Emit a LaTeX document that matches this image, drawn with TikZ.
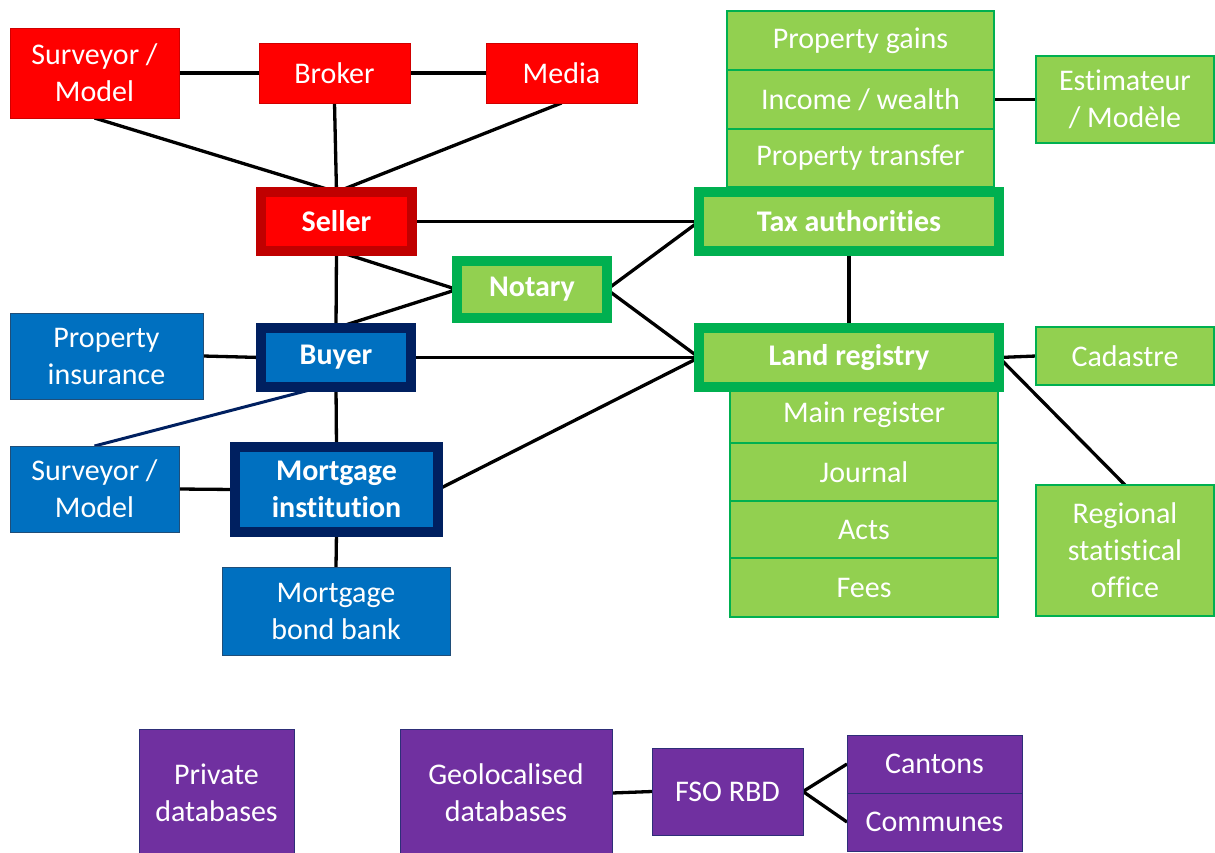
\documentclass[tikz,border=0pt]{standalone}
\usepackage{fontspec}
\setmainfont{Carlito}[Ligatures=NoCommon]
\usetikzlibrary{backgrounds}
\definecolor{cRed}{HTML}{FF0000}
\definecolor{cRedD}{HTML}{D00000}
\definecolor{cRedB}{HTML}{C00000}
\definecolor{cBlue}{HTML}{0070C0}
\definecolor{cBlueD}{HTML}{1F4E79}
\definecolor{cNavy}{HTML}{002060}
\definecolor{cGreen}{HTML}{92D050}
\definecolor{cGreenB}{HTML}{00B050}
\definecolor{cPurple}{HTML}{7030A0}
\definecolor{cPurpleD}{HTML}{2E2E78}
\newcommand\fsz{\fontsize{30}{37}\selectfont}
\tikzset{
  box/.style={rectangle, inner sep=0pt, outer sep=0pt, align=center, text=white, font=\fsz},
  sz/.style 2 args={minimum width=#1pt, minimum height=#2pt},
  redbox/.style={box, fill=cRed, draw=cRedD, line width=0.8pt},
  bluebox/.style={box, fill=cBlue, draw=cBlueD, line width=0.8pt},
  greenbox/.style={box, fill=cGreen, draw=cGreenB, line width=1.5pt},
  purplebox/.style={box, fill=cPurple, draw=cPurpleD, line width=1pt},
  thickred/.style={box, fill=cRed, draw=cRedB, line width=10pt, font=\fsz\bfseries},
  thickblue/.style={box, fill=cBlue, draw=cNavy, line width=10pt, font=\fsz\bfseries},
  thickgreen/.style={box, fill=cGreen, draw=cGreenB, line width=10pt, font=\fsz\bfseries},
  link/.style={line width=3.3pt, black},
  navylink/.style={line width=3pt, cNavy},
}
\begin{document}
\begin{tikzpicture}[x=1pt, y=-1pt]
\useasboundingbox (0,0) rectangle (1215,852);
\clip (0,0) rectangle (1215,852);
% red
\node[redbox, sz={169}{90}] (sv1) at (94.5,73) {Surveyor /\\Model};
\node[redbox, sz={151}{60}] (broker) at (334.5,73) {Broker};
\node[redbox, sz={151}{60}] (media) at (561.5,73) {Media};
\node[thickred, sz={151}{59}] (seller) at (336.5,221.5) {Seller};
% notary
\node[thickgreen, sz={150}{57}] (notary) at (532,289.5) {Notary};
% blue
\node[bluebox, sz={193}{86}] (propins) at (106.5,356) {Property\\insurance};
\node[thickblue, sz={150}{59}] (buyer) at (336,357.5) {Buyer};
\node[bluebox, sz={169}{86}] (sv2) at (94.5,489) {Surveyor /\\Model};
\node[thickblue, sz={203}{85}] (mort) at (336.5,489.5) {Mortgage\\institution};
\node[bluebox, sz={228}{88}] (bond) at (336,611) {Mortgage\\bond bank};
% green top stack
\node[greenbox, sz={267}{59}] (pg) at (860.5,40.5) {Property gains};
\node[greenbox, sz={267}{59}] (iw) at (860.5,99.5) {Income / wealth};
\node[greenbox, sz={267}{58}] (pt) at (860.5,158) {Property transfer};
\node[thickgreen, sz={300}{59}] (tax) at (849,221.5) {Tax authorities};
\node[greenbox, sz={178}{87}] (estim) at (1125,99.5) {Estimateur\\/ Modèle};
% green bottom stack
\node[greenbox, sz={268}{56}] (mr) at (864,415) {Main register};
\node[greenbox, sz={268}{58}] (jo) at (864,472) {Journal};
\node[greenbox, sz={268}{57}] (ac) at (864,529.5) {Acts};
\node[greenbox, sz={268}{59}] (fe) at (864,587.5) {Fees};
\node[thickgreen, sz={300}{59}] (land) at (849,357.5) {Land registry};
\node[greenbox, sz={178}{58}] (cad) at (1125,356) {Cadastre};
\node[greenbox, sz={178}{131}] (reg) at (1125,550.5) {Regional\\statistical\\office};
% purple
\node[purplebox, sz={155}{128}] (priv) at (216.5,793) {Private\\databases};
\node[purplebox, sz={212}{128}] (geo) at (506,793) {Geolocalised\\databases};
\node[purplebox, sz={151}{87}] (fso) at (727.5,791.5) {FSO RBD};
\node[purplebox, sz={175}{58}] (can) at (934.5,764) {Cantons};
\node[purplebox, sz={175}{58}] (com) at (934.5,822) {Communes};
% connectors
\begin{scope}[on background layer]
\draw[link] (sv1.east) -- (broker.west);
\draw[link] (broker.east) -- (media.west);
\draw[link] (sv1.south) -- (seller.north);
\draw[link] (broker.south) -- (seller.north);
\draw[link] (media.south) -- (seller.north);
\draw[link] (seller.east) -- (tax.west);
\draw[link] (seller.south) -- (notary.west) -- (buyer.north);
\draw[link] (seller.south) -- (buyer.north);
\draw[link] (tax.west) -- (notary.east) -- (land.west);
\draw[link] (propins.east) -- (buyer.west);
\draw[link] (buyer.east) -- (land.west);
\draw[link] (buyer.south) -- (mort.north);
\draw[navylink] (sv2.north) -- ([xshift=-15pt]buyer.south);
\draw[link] (sv2.east) -- (mort.west);
\draw[link] (mort.east) -- (land.west);
\draw[link] (mort.south) -- (bond.north);
\draw[link] (tax.south) -- (land.north);
\draw[link] (iw.east) -- (estim.west);
\draw[link] (cad.west) -- (land.east);
\draw[link] (land.east) -- (reg.north);
\draw[link] (geo.east) -- (fso.west);
\draw[link] (can.west) -- (fso.east) -- (com.west);
\end{scope}
\end{tikzpicture}
\end{document}
